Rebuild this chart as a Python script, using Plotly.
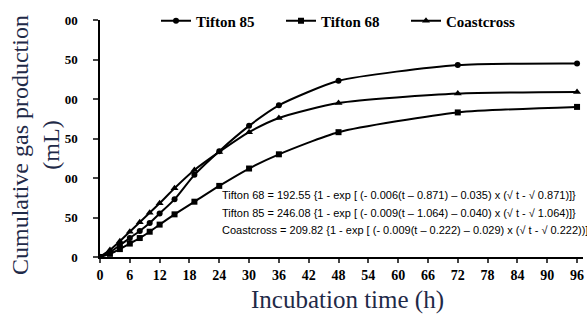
import plotly.graph_objects as go

time_h = [0, 2, 4, 6, 8, 10, 12, 15, 19, 24, 30, 36, 48, 72, 96]
tifton85 = [0, 6, 15, 24, 33, 43, 55, 73, 104, 134, 166, 192, 223, 243, 245]
tifton68 = [0, 4, 10, 17, 24, 32, 41, 54, 70, 90, 112, 130, 158, 183, 190]
coastcross = [0, 9, 20, 32, 44, 56, 68, 87, 110, 133, 158, 176, 195, 207, 209]

x_ticks = list(range(0, 97, 6))
y_tickvals = [0, 50, 100, 150, 200, 250, 300]
y_ticktext = ["0", "50", "00", "50", "00", "50", "00"]

equations = [
    "Tifton 68 = 192.55 {1 - exp [ (- 0.006(t \u2013 0.871) \u2013 0.035) x (\u221a t - \u221a 0.871)]}",
    "Tifton 85 = 246.08 {1 - exp [ (- 0.009(t \u2013 1.064) \u2013 0.040) x (\u221a t - \u221a 1.064)]}",
    "Coastcross = 209.82 {1 - exp [ (- 0.009(t \u2013 0.222) \u2013 0.029) x (\u221a t - \u221a 0.222))]}",
]

W, H = 587, 314
L, T = 100, 20
B = H - 257
R = W - 583
pw, ph = W - L - R, H - T - B


def px(x):
    return (x - L) / pw


def py(y):
    return (H - B - y) / ph


fig = go.Figure()
series = [
    ("Tifton 85", tifton85, "circle", 6),
    ("Tifton 68", tifton68, "square", 6),
    ("Coastcross", coastcross, "triangle-up", 7),
]
for name, vals, sym, sz in series:
    fig.add_trace(go.Scatter(
        x=time_h, y=vals, name=name, mode="lines+markers",
        line=dict(color="black", width=2, shape="spline", smoothing=0.6),
        marker=dict(symbol=sym, size=sz, color="black"),
    ))

serif = "Liberation Serif"
title_color = "#1f2a48"
for i, eq in enumerate(equations):
    fig.add_annotation(
        text=eq, xref="paper", yref="paper", x=px(220),
        y=py(195 + 17.5 * i), xanchor="left", yanchor="middle",
        showarrow=False, font=dict(family="Liberation Sans", size=11, color="black"),
    )

fig.add_annotation(
    text="Cumulative gas production<br>(mL)", xref="paper", yref="paper",
    x=px(35), y=py(145), xanchor="center", yanchor="middle",
    textangle=-90, showarrow=False,
    font=dict(family=serif, size=24, color=title_color),
)
fig.add_annotation(
    text="Incubation time (h)", xref="paper", yref="paper",
    x=px(347), y=py(300), xanchor="center", yanchor="middle",
    showarrow=False,
    font=dict(family=serif, size=25, color=title_color),
)

fig.update_layout(
    width=W, height=H,
    margin=dict(l=L, r=R, t=T, b=B, autoexpand=False),
    paper_bgcolor="white", plot_bgcolor="white",
    showlegend=True,
    legend=dict(orientation="h", x=px(156), xanchor="left",
                yref="container", y=1 - 21 / H, yanchor="middle",
                font=dict(family=serif, size=15, color="black", weight="bold"),
                bgcolor="rgba(0,0,0,0)", tracegroupgap=0,
                entrywidth=80, entrywidthmode="pixels"),
    xaxis=dict(
        range=[0, 97.2], tickvals=x_ticks, ticks="outside", ticklen=4, tickwidth=1.5,
        showline=True, linecolor="black", linewidth=1.5, showgrid=False, zeroline=False,
        ticklabeloverflow="allow",
        tickfont=dict(family=serif, size=14, color="black", weight="bold"),
    ),
    yaxis=dict(
        range=[0, 300], tickvals=y_tickvals, ticktext=y_ticktext, ticks="outside",
        ticklen=5, tickwidth=1.5, showline=True, linecolor="black", linewidth=1.5,
        showgrid=False, zeroline=False, ticklabelstandoff=13,
        tickfont=dict(family=serif, size=13, color="black", weight="bold"),
    ),
)

fig.write_html(
    "out.html",
    config={"displayModeBar": False},
    post_script="document.body.style.margin='0';document.body.style.overflow='hidden';",
)
